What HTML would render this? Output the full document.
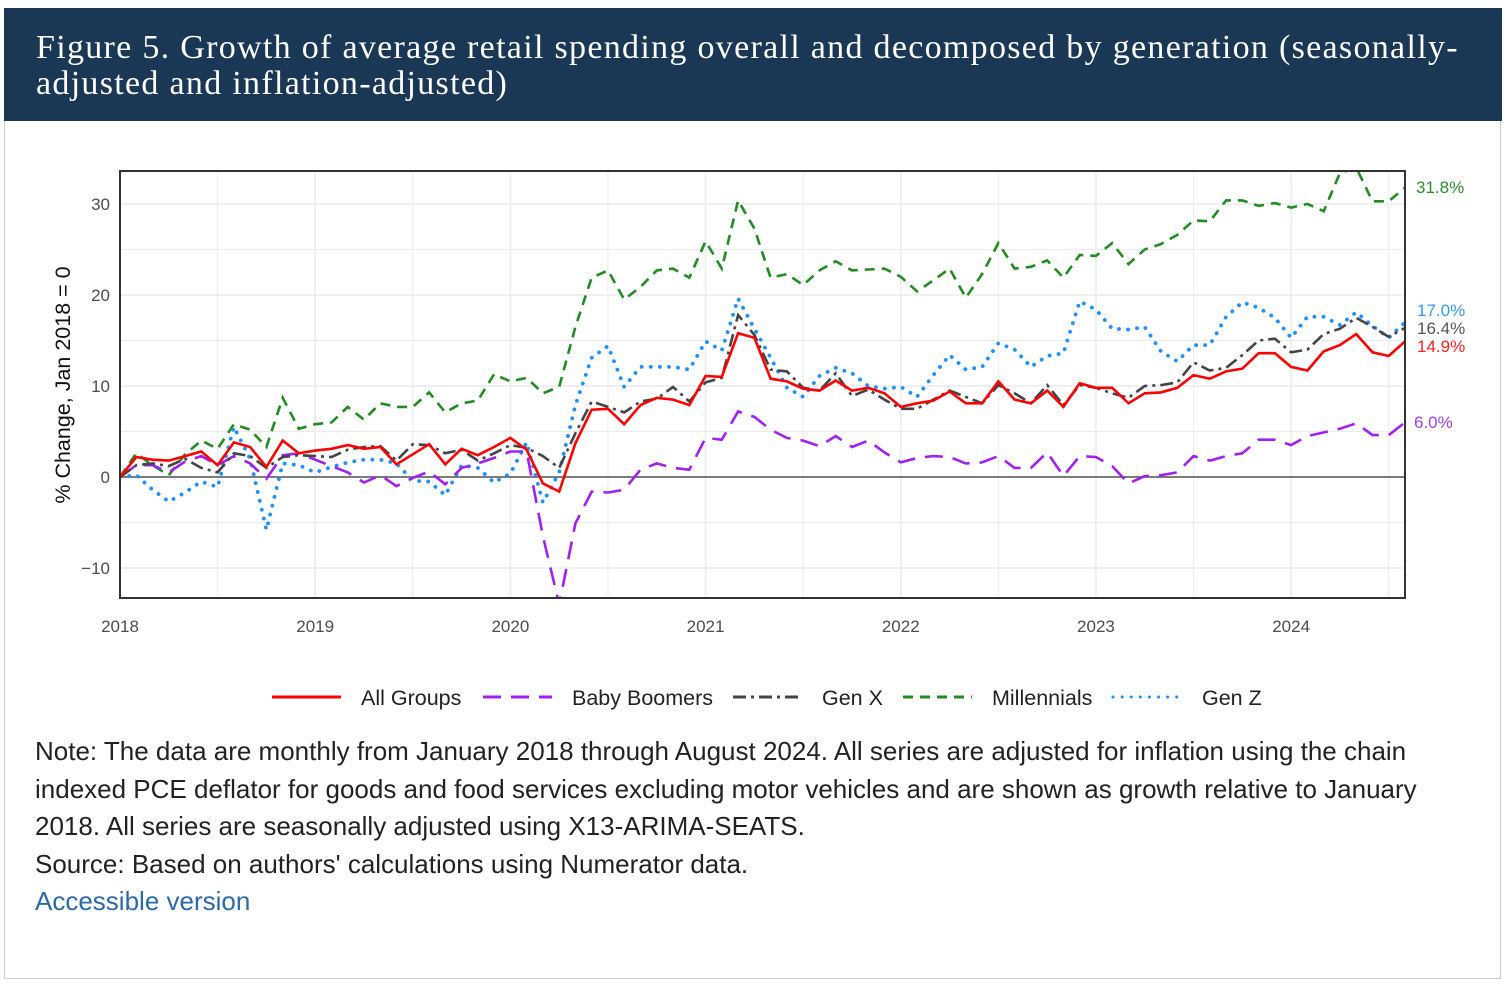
<!DOCTYPE html>
<html><head><meta charset="utf-8">
<style>
body{margin:0;background:#fff;width:1510px;height:986px;overflow:hidden;font-family:"Liberation Sans",sans-serif;}
#card{position:absolute;left:4px;top:8px;width:1497px;height:971px;border:1px solid #c8ccd2;box-sizing:border-box;}
#hdr{position:absolute;left:4px;top:8px;width:1498px;height:113px;background:#1b3756;}
#hdr h1{margin:0;position:absolute;left:32px;top:22px;font-family:"Liberation Serif",serif;font-weight:normal;font-size:34px;letter-spacing:1.3px;line-height:36px;color:#fff;white-space:nowrap;}
#note{position:absolute;left:35px;top:733px;font-size:26px;line-height:37.5px;color:#222;white-space:nowrap;}
#note a{color:#2a6aa6;text-decoration:none;}
svg{position:absolute;left:0;top:0;}
</style></head><body>
<div id="card"></div>
<div id="hdr"><h1>Figure 5. Growth of average retail spending overall and decomposed by generation (seasonally-<br>adjusted and inflation-adjusted)</h1></div>
<svg id="chart" width="1510" height="986"></svg>
<div id="note">Note: The data are monthly from January 2018 through August 2024. All series are adjusted for inflation using the chain<br>indexed PCE deflator for goods and food services excluding motor vehicles and are shown as growth relative to January<br>2018. All series are seasonally adjusted using X13-ARIMA-SEATS.<br>Source: Based on authors' calculations using Numerator data.<br><a href="#">Accessible version</a></div>
<script>
const years=["2018","2019","2020","2021","2022","2023","2024"];
const yTicks=[-10,0,10,20,30];
const allGroups=[0,2.2,1.9,1.8,2.3,2.8,1.3,3.8,3.3,1.1,4.0,2.6,2.9,3.1,3.5,3.1,3.3,1.4,2.5,3.6,1.4,3.1,2.4,3.3,4.3,3.0,-0.7,-1.6,3.7,7.4,7.5,5.8,7.9,8.7,8.5,7.9,11.1,11.0,15.8,15.3,10.8,10.5,9.7,9.5,10.6,9.5,9.8,9.2,7.7,8.1,8.4,9.4,8.1,8.1,10.5,8.5,8.1,9.5,7.7,10.3,9.8,9.8,8.1,9.2,9.3,9.8,11.2,10.8,11.6,11.9,13.6,13.6,12.1,11.7,13.8,14.5,15.7,13.7,13.3,14.9];
const babyBoomers=[0,1.3,1.3,0.5,1.7,2.3,1.3,2.3,1.5,-0.2,2.4,2.6,1.9,1.2,0.5,-0.6,0.2,-1.0,-0.1,0.6,-0.8,1.0,1.5,2.1,2.8,2.8,-6.5,-14,-5.1,-1.6,-1.7,-1.4,0.8,1.5,1.0,0.8,4.3,4.1,7.2,6.6,5.2,4.3,4.0,3.4,4.5,3.3,4.0,2.7,1.6,2.1,2.3,2.2,1.5,1.6,2.3,1.0,1.0,2.7,0.1,2.3,2.2,1.2,-0.7,0.1,0.2,0.5,2.3,1.8,2.3,2.6,4.1,4.1,3.5,4.5,4.9,5.3,5.9,4.6,4.6,6.0];
const genX=[0,1.3,1.5,1.2,2.0,1.0,0.5,2.6,2.3,1.0,2.2,2.4,2.3,2.2,3.0,3.3,3.4,1.8,3.6,3.5,2.6,3.0,1.8,2.6,3.5,3.2,2.3,1.0,4.8,8.3,7.7,7.1,8.3,8.6,9.9,8.3,10.4,10.9,17.8,15.6,11.8,11.6,9.8,9.5,11.4,8.9,9.6,8.5,7.5,7.5,8.5,9.5,8.8,8.1,10.1,9.2,8.1,10.1,7.9,10.1,9.8,9.2,8.7,10.0,10.1,10.4,12.6,11.7,12.0,13.4,15.0,15.2,13.7,14.0,15.7,16.3,17.5,16.5,15.4,16.4];
const millennials=[0,2.6,1.3,0.2,2.5,4.0,3.1,5.8,5.2,3.3,8.7,5.3,5.8,6.0,7.7,6.3,8.1,7.7,7.7,9.3,7.1,8.1,8.4,11.3,10.5,10.9,9.2,9.9,16.5,21.9,22.7,19.5,20.9,22.7,22.9,21.9,25.9,22.9,30.4,27.3,21.9,22.3,21.1,22.7,23.7,22.7,22.8,22.9,22.0,20.4,21.6,22.9,19.7,22.3,25.7,22.9,23.1,23.8,21.9,24.4,24.3,25.7,23.4,25.0,25.6,26.6,28.2,28.1,30.4,30.4,29.8,30.1,29.6,30.0,29.2,33.4,34.0,30.3,30.3,31.8];
const genZ=[0,0.2,-1.4,-2.7,-1.7,-0.5,-1.1,5.5,2.0,-5.8,1.5,1.3,0.5,1.1,1.6,1.9,1.9,1.5,-0.4,-0.5,-2.0,1.3,1.0,-0.6,0.4,3.8,-2.8,0.5,7.9,13.1,14.4,9.9,12.1,12.1,12.1,11.8,14.9,13.9,19.6,16.3,13.1,9.8,8.8,11.1,12.0,11.4,10.0,9.7,9.9,8.8,11.2,13.4,11.8,12.1,14.7,14.0,12.1,13.3,13.6,19.3,18.4,16.3,16.2,16.5,13.8,12.7,14.5,14.5,17.6,19.2,18.6,17.5,15.3,17.6,17.6,16.7,18.1,16.6,15.3,17.0];
const endLabels=["31.8%","17.0%","16.4%","14.9%","6.0%"];

const NS="http://www.w3.org/2000/svg";
const svg=document.getElementById('chart');
const L=120,R=1405,T=171,B=598;
const x=m=>L+(R-L)*m/79;
const y=v=>477-9.1*v;
function el(t,a,p){const e=document.createElementNS(NS,t);for(const k in a)e.setAttribute(k,a[k]);(p||svg).appendChild(e);return e;}
const defs=el('defs',{});
const cp=el('clipPath',{id:'clip'},defs);el('rect',{x:L,y:T,width:R-L,height:B-T},cp);

for(let v=-10;v<=30;v+=5){const g=el('line',{x1:L,x2:R,y1:y(v),y2:y(v),stroke:'#ebebeb','stroke-width':v%10===0?1.5:1});

}
for(let h=0;h<14;h++){const m=h*6;if(m>79)break;const g=el('line',{x1:x(m),x2:x(m),y1:T,y2:B,stroke:'#ebebeb','stroke-width':h%2===0?1.5:1});

}
const zl=el('line',{x1:L,x2:R,y1:y(0),y2:y(0),stroke:'#555','stroke-width':1.6});



yTicks.forEach(v=>{const t=el('text',{x:110,y:y(v)+6,'text-anchor':'end','font-size':17,fill:'#4d4d4d','font-family':'Liberation Sans'});t.textContent=v<0?'\u2212'+Math.abs(v):v;

});
years.forEach((yr,i)=>{const t=el('text',{x:x(i*12),y:632,'text-anchor':'middle','font-size':17,fill:'#4d4d4d','font-family':'Liberation Sans'});t.textContent=yr;

});
const yt=el('text',{x:0,y:0,transform:'translate(70,385) rotate(-90)','text-anchor':'middle','font-size':21.5,fill:'#111','font-family':'Liberation Sans'});yt.textContent='% Change, Jan 2018 = 0';



const series=[
 {d:allGroups,c:'#ff0000',dash:'',name:'all-groups',w:2.6,cap:'butt'},
 {d:babyBoomers,c:'#a020f0',dash:'18,10',name:'baby-boomers',w:2.6,cap:'butt'},
 {d:genX,c:'#444444',dash:'13,5,3,5',name:'gen-x',w:2.6,cap:'butt'},
 {d:millennials,c:'#228b22',dash:'10,7',name:'millennials',w:2.6,cap:'butt'},
 {d:genZ,c:'#1e90ff',dash:'0.1,9',name:'gen-z',w:3.8,cap:'round'}];
const order=[3,4,1,2,0];
order.forEach(i=>{const s=series[i];
 const p=el('path',{d:s.d.map((v,m)=>(m?'L':'M')+x(m).toFixed(1)+','+y(v).toFixed(1)).join(''),fill:'none',stroke:s.c,'stroke-width':s.w,'stroke-dasharray':s.dash,'clip-path':'url(#clip)','stroke-linecap':s.cap});
 
 });
const fr=el('rect',{x:L,y:T,width:R-L,height:B-T,fill:'none',stroke:'#333','stroke-width':2});



const endCfg=[['#2e8b2e',1416,193],['#3399ff',1417,316],['#555',1417,334],['#ff2020',1417,352],['#a040f0',1414,428]];
endCfg.forEach((c,i)=>{const t=el('text',{x:c[1],y:c[2],'font-size':17,fill:c[0],'font-family':'Liberation Sans'});t.textContent=endLabels[i];

});

const legNames=['All Groups','Baby Boomers','Gen X','Millennials','Gen Z'];
const legX=[272,483,733,903,1113];
series.forEach((s,i)=>{const g=el('g',{});
 
 
 el('line',{x1:legX[i],x2:legX[i]+69,y1:697,y2:697,stroke:s.c,'stroke-width':3,'stroke-dasharray':s.dash,'stroke-linecap':s.cap},g);
 const t=el('text',{x:legX[i]+89,y:705,'font-size':21.5,fill:'#222','font-family':'Liberation Sans'},g);t.textContent=legNames[i];});
</script>
</body></html>
